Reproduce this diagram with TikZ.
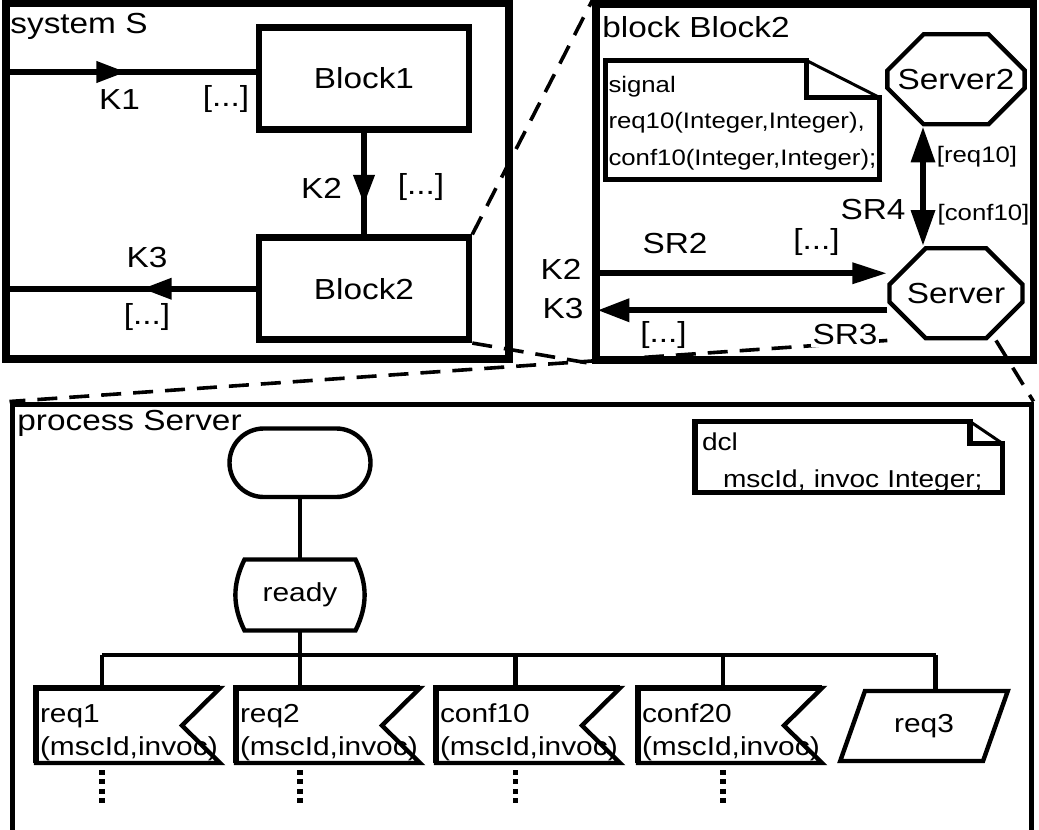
\documentclass[tikz,border=0pt]{standalone}
\usepackage{fontspec}
\setmainfont{Liberation Sans}[FakeStretch=1.15]
\usetikzlibrary{arrows.meta, positioning, calc, shapes.misc, shapes.geometric, decorations.markings}

\newcommand{\bigtxt}{\fontsize{14.5}{17}\selectfont}
\newcommand{\notetxt}{\fontsize{11.2}{18.25}\selectfont}
\newcommand{\dcltxt}{\fontsize{12.2}{18.5}\selectfont}
\newcommand{\flowtxt}{\fontsize{13}{16.5}\selectfont}

\begin{document}
\begin{tikzpicture}[
    x=0.5pt, y=-0.5pt, % one unit = one pixel of the sketch, y runs downwards
    txt/.style={inner sep=0pt, font=\bigtxt}, % plain labels
    smalltxt/.style={inner sep=0pt, font=\notetxt},
    frame/.style={draw, line width=3.7pt, inner sep=0pt},
    blockbox/.style={draw, line width=3.3pt, inner sep=0pt, minimum width=105pt, minimum height=51pt, font=\bigtxt},
    chan/.style={line width=3.2pt},
    midarrow/.style={postaction={decorate}, decoration={markings, mark=at position #1 with {\arrow{Triangle[length=15pt, width=10pt]}}}},
    octa/.style={draw, line width=2.2pt, chamfered rectangle, chamfered rectangle xsep=12pt, chamfered rectangle ysep=13pt, minimum width=66.5pt, minimum height=45pt, inner sep=0pt, font=\bigtxt},
    note/.style={inner ysep=0pt, outer sep=0pt, align=left, font=\notetxt},
    zoomline/.style={line width=1.8pt, dash pattern=on 10pt off 6pt},
    flowline/.style={line width=2.2pt},
    flag/.style={minimum width=92pt, minimum height=37.5pt, text width=88pt, inner xsep=2pt, inner ysep=0pt, outer sep=0pt, align=left, font=\flowtxt, anchor=north west},
    dotline/.style={line width=2.6pt, dash pattern=on 2.5pt off 2.2pt}
]
    \useasboundingbox (0,0) rectangle (1039,830);
    \clip (0,0) rectangle (1039,830);

    % --- system S ---
    \node[frame, minimum width=251.5pt, minimum height=177.75pt] (sysS) at (257.5,181.25) {};
    \node[txt, anchor=base west] (sysSlbl) at (10,33) {system S};
    \node[blockbox] (b1) at (364,78.5) {Block1};
    \node[blockbox] (b2) at (364,288.75) {Block2};

    \coordinate (k1in) at ([yshift=3.25pt]b1.west);
    \draw[chan, midarrow=0.49] (k1in -| sysS.west) -- (k1in);
    \draw[chan, midarrow=0.71] (b1.south) -- (b2.north);
    \draw[chan, midarrow=0.45] (b2.west) -- (b2.west -| sysS.west);

    \node[txt] (k1) at (119.5,100) {K1};
    \node[txt] (k1sig) at (226,99) {[...]};
    \node[txt] (k2) at (321.5,188) {K2};
    \node[txt] (k2sig) at (421,187) {[...]};
    \node[txt] (k3) at (147,258) {K3};
    \node[txt] (k3sig) at (147,317) {[...]};

    % --- block Block2 ---
    \node[frame, minimum width=218.75pt, minimum height=178pt] (blk) at (814.75,182) {};
    \node[txt, anchor=base west] (blklbl) at (602,38) {block Block2};

    \node[note, minimum width=137pt, minimum height=59.5pt, text width=134pt, inner xsep=1.5pt] (sigs) at (742.5,120)
        {\rule{0pt}{10.9pt}signal\\req10(Integer,Integer),\\conf10(Integer,Integer);};
    \draw[line width=2.8pt] (sigs.south west) -- (sigs.north west) -- ([xshift=-36.5pt]sigs.north east)
        -- ([xshift=-36.5pt,yshift=-18.5pt]sigs.north east) -- ([yshift=-18.5pt]sigs.north east) -- (sigs.south east) -- cycle;
    \draw[line width=1.5pt] ([xshift=-36.5pt]sigs.north east) -- ([yshift=-18.5pt]sigs.north east);

    \node[octa] (sv2) at (956,79.25) {Server2};
    \node[octa] (sv) at (956,293.25) {Server};

    \draw[chan, {Triangle[length=18pt, width=11.5pt]}-{Triangle[length=18pt, width=11.5pt]}]
        ([xshift=-16.5pt]sv2.south) -- ([xshift=-16.5pt]sv.north);

    \coordinate (sr2in) at ([yshift=10pt]sv.west);
    \coordinate (sr3out) at ([yshift=-8.5pt]sv.west);
    \draw[chan, -{Triangle[length=17.5pt, width=10pt]}] (sr2in -| blk.west) -- (sr2in);
    \draw[chan, -{Triangle[length=16pt, width=11pt]}, shorten >=2.5pt] (sr3out) -- (sr3out -| blk.west);

    \node[txt] (k2out) at (561,269) {K2};
    \node[txt] (k3out) at (563,309) {K3};
    \node[txt] (sr2) at (675,244) {SR2};
    \node[txt] (sr2sig) at (816.5,242) {[...]};
    \node[txt] (sr4) at (873,210) {SR4};
    \node[smalltxt] (sr4up) at (977,156.5) {[req10]};
    \node[smalltxt] (sr4down) at (983.5,215) {[conf10]};
    \node[txt] (sr3sig) at (663.5,335) {[...]};

    % --- process Server ---
    \node[frame, line width=2.5pt, minimum width=509.5pt, minimum height=230pt] (proc) at (521.5,634) {};
    \node[txt, anchor=base west] (proclbl) at (17,430) {process Server};

    \node[draw, flowline, rounded rectangle, minimum width=70.5pt, minimum height=34.25pt, inner sep=0pt] (start) at (300,462.75) {};
    \node[font=\flowtxt, outer sep=0pt, minimum width=55.5pt, minimum height=35.5pt] (ready) at (300,595) {ready};
    \draw[flowline] (ready.north west) -- (ready.north east) to[bend left=26] (ready.south east)
        -- (ready.south west) to[bend left=26] (ready.north west) -- cycle;
    \draw[flowline] (start) -- (ready);

    \coordinate (br1) at (102,655);
    \coordinate (br2) at (300,655);
    \coordinate (br3) at (515.5,655);
    \coordinate (br4) at (723,655);
    \coordinate (br5) at (935.5,655);
    \draw[flowline] (ready) -- (br2);
    \draw[flowline] (br1) -- (br5);

    \foreach \nm/\x/\sig in {rq1/36/req1, rq2/236/req2, cf10/436/conf10, cf20/638/conf20} {
        \node[flag] (\nm) at (\x,688) {\rule{0pt}{15.8pt}\sig\\(mscId,invoc)};
        \draw[flowline] (\nm.south west) -- (\nm.north west) -- (\nm.north east) -- ([xshift=-19pt]\nm.east) -- (\nm.south east) -- cycle;
        \draw[line width=3.3pt] (\nm.south west) -- (\nm.north west) -- (\nm.north east);
    }
    \node[draw, flowline, trapezium, trapezium left angle=62, trapezium right angle=118, trapezium stretches=true,
        minimum width=84pt, minimum height=35pt, inner sep=0pt, font=\flowtxt] (rq3) at (924,726) {req3};

    \foreach \b/\nm in {br1/rq1, br2/rq2, br3/cf10, br4/cf20, br5/rq3}
        \draw[flowline] (\b) -- (\b |- \nm.north);
    \foreach \b/\nm in {br1/rq1, br2/rq2, br3/cf10, br4/cf20}
        \draw[dotline] ($(\b |- \nm.south)+(0,7)$) -- ($(\b |- \nm.south)+(0,42)$);

    \node[note, font=\dcltxt, minimum width=153.75pt, minimum height=35.5pt, text width=146.75pt, inner xsep=3.5pt] (dcl) at (848.75,457)
        {\rule{0pt}{14.5pt}dcl\\\hspace*{10.5pt}mscId, invoc Integer;};
    \draw[line width=2.8pt] (dcl.south west) -- (dcl.north west) -- ([xshift=-16.25pt]dcl.north east)
        -- ([xshift=-16.25pt,yshift=-11pt]dcl.north east) -- ([yshift=-11pt]dcl.north east) -- (dcl.south east) -- cycle;
    \draw[line width=1.5pt] ([xshift=-16.25pt]dcl.north east) -- ([yshift=-11pt]dcl.north east);

    % --- zoom lines ---
    \draw[zoomline] (b2.north east) -- (blk.north west);
    \draw[zoomline] (b2.south east) -- (blk.south west);
    \draw[zoomline] (sv.west |- sv.south) -- (proc.north west);
    \draw[zoomline] ([xshift=20pt]sv.south) -- (proc.north east);
    \node[txt, fill=white, inner sep=1pt] (sr3) at (845,335) {SR3};

\end{tikzpicture}
\end{document}
